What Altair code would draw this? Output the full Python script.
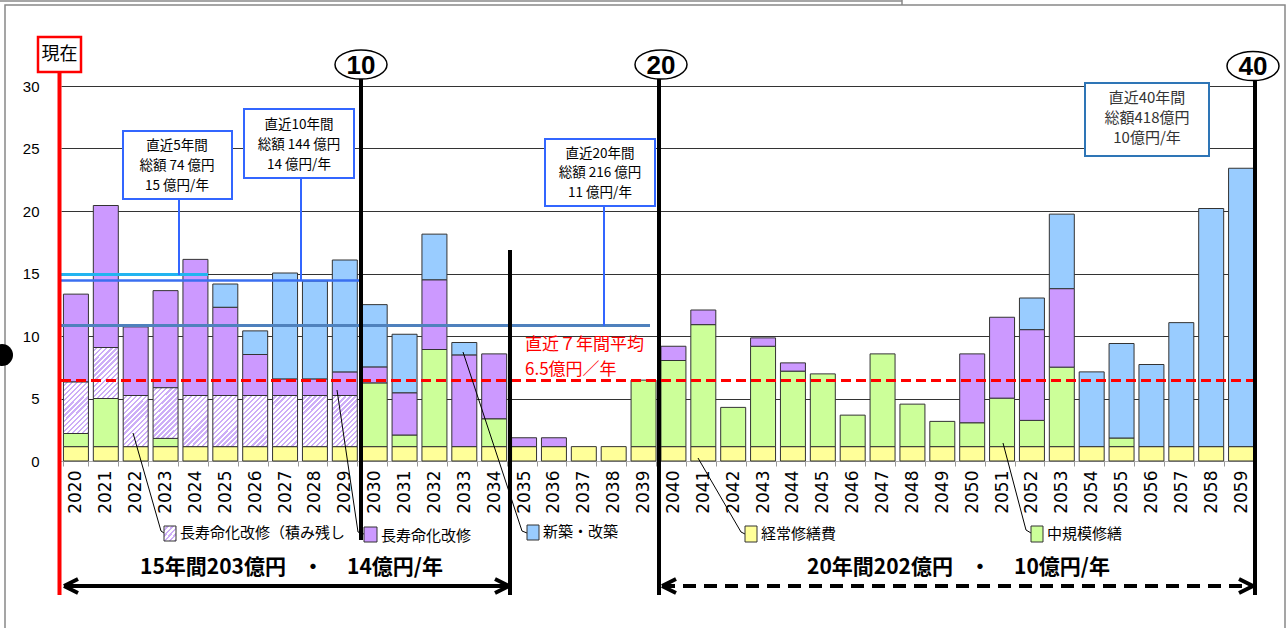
import altair as alt
import pandas as pd

# ---------------- data ----------------
years = list(range(2020, 2060))
keijo = [1.15] * 40
chukibo = [1.05, 3.85, 0, 0.66, 0, 0, 0, 0, 0, 0,
           5.10, 0.93, 7.77, 0, 2.23, 0, 0, 0, 0, 5.32,
           6.89, 9.76, 3.14, 8.03, 6.04, 5.82, 2.52, 7.42, 3.40, 2.02,
           1.91, 3.88, 2.10, 6.36, 0, 0.69, 0, 0, 0, 0]
tsumi = [4.12, 4.08, 4.09, 4.05, 4.09, 4.09, 4.09, 4.09, 4.09, 4.09] + [0] * 30
choju = [7.03, 11.36, 5.49, 7.77, 10.89, 7.06, 3.28, 1.33, 1.33, 1.89,
         1.28, 3.38, 5.58, 7.34, 5.19, 0.71, 0.71, 0, 0, 0,
         1.14, 1.17, 0, 0.67, 0.66, 0, 0, 0, 0, 0,
         5.51, 6.47, 7.26, 6.28, 0, 0, 0, 0, 0, 0]
shinchiku = [0, 0, 0, 0, 0, 1.86, 1.89, 8.47, 7.83, 8.95,
             4.98, 4.68, 3.65, 0.99, 0, 0, 0, 0, 0, 0,
             0, 0, 0, 0, 0, 0, 0, 0, 0, 0,
             0, 0, 2.53, 5.96, 5.98, 7.56, 6.57, 9.92, 19.05, 22.27]

cats = ["経常修繕費", "中規模修繕", "長寿命化改修（積み残し）", "長寿命化改修", "新築・改築"]
colors = ["#FFFF99", "#CCFF99", "#FFFFFF", "#CC99FF", "#99CCFF"]
series = [keijo, chukibo, tsumi, choju, shinchiku]

y_ticks = [0, 5, 10, 15, 20, 25, 30]
avg_lines = [14.92, 14.44, 10.84]   # 直近5年, 直近10年, 直近20年 averages as drawn
avg7 = 6.45

rows = []
for i, yr in enumerate(years):
    base = 0.0
    for c, arr in zip(cats, series):
        v = arr[i]
        if v > 0:
            rows.append({"year": yr, "cat": c, "y0": base, "y1": base + v})
        base += v
df = pd.DataFrame(rows)
df_main = df[df["cat"] != cats[2]]
df_hatch = df[df["cat"] == cats[2]]

# ---------------- layout ----------------
OX, OY = 61, 86
W, H = 1195, 375
FONT = "Noto Sans CJK JP"
one = pd.DataFrame({"k": [0]})


def px(x):
    return alt.value(x - OX)


def py(y):
    return alt.value(y - OY)


def hatch(n, x2, y2, line="#CDAEF7", bg="#FFFFFF", frac=0.45):
    stops = []
    for i in range(n):
        a = i / n
        b = (i + 1 - frac) / n
        c = (i + 1) / n
        stops += [{"offset": a, "color": bg}, {"offset": b, "color": bg},
                  {"offset": b, "color": line}, {"offset": c, "color": line}]
    return {"gradient": "linear", "x1": 0, "y1": 0, "x2": x2, "y2": y2, "stops": stops}


def rule(x1, y1, x2, y2, color="black", width=1.0, dash=None):
    kw = dict(color=color, strokeWidth=width)
    if dash:
        kw["strokeDash"] = dash
    return alt.Chart(one).mark_rule(**kw).encode(x=px(x1), y=py(y1), x2=px(x2), y2=py(y2))


def hline(v, x1, x2, color, width, dash=None):
    kw = dict(color=color, strokeWidth=width)
    if dash:
        kw["strokeDash"] = dash
    return alt.Chart(one).mark_rule(**kw).encode(y=alt.datum(v), x=px(x1), x2=px(x2))


def rect(x1, y1, x2, y2, fill="white", stroke="black", width=1.0):
    return alt.Chart(one).mark_rect(fill=fill, stroke=stroke, strokeWidth=width).encode(
        x=px(x1), x2=px(x2), y=py(y1), y2=py(y2))


def text(x, y, s, size=14, color="black", weight="normal", align="center", font=FONT):
    return alt.Chart(one).mark_text(text=s, fontSize=size, color=color, fontWeight=weight,
                                    align=align, baseline="middle", font=font).encode(x=px(x), y=py(y))


layers = []

x_enc = alt.X("year:O",
              scale=alt.Scale(paddingInner=0.164, paddingOuter=0.082),
              axis=alt.Axis(title=None, labelAngle=-90, labelFont="DejaVu Sans", labelFontSize=17,
                            labelColor="black", labelPadding=4, tickBand="extent", tickSize=5,
                            tickColor="#999999", domainColor="#AAAAAA", grid=False))
y_enc = alt.Y("y1:Q",
              scale=alt.Scale(domain=[0, 30], nice=False),
              axis=alt.Axis(title=None, values=y_ticks, grid=True, gridColor="#333333", gridWidth=1,
                            ticks=False, domain=False, labelFont="Liberation Sans", labelFontSize=15,
                            labelColor="black", labelPadding=22))

bars = alt.Chart(df_main).mark_bar(stroke="#333333", strokeWidth=1).encode(
    x=x_enc, y=y_enc, y2="y0:Q",
    color=alt.Color("cat:N", scale=alt.Scale(domain=[cats[0], cats[1], cats[3], cats[4]],
                                             range=[colors[0], colors[1], colors[3], colors[4]]),
                    legend=None))
layers.append(bars)

hbars = alt.Chart(df_hatch).mark_bar(fill=hatch(15, 0.588, 1.2), stroke="#333333", strokeWidth=1).encode(
    x="year:O", y="y1:Q", y2="y0:Q")
layers.append(hbars)

# average lines
layers.append(hline(avg_lines[0], 61, 208, "#22B4F0", 3))
layers.append(hline(avg_lines[1], 61, 360, "#3A6FF0", 2.5))
layers.append(hline(avg_lines[2], 61, 650, "#4F81BD", 3))
layers.append(hline(avg7, 61, 1255, "#FF0000", 3, dash=[10, 5]))

# connectors from boxes
layers.append(rule(179, 199, 179, 275, "#3366FF", 2))
layers.append(rule(301, 178, 301, 281, "#3366FF", 2))
layers.append(rule(604, 206, 604, 326, "#3366FF", 2))

# boxes
layers.append(rect(123, 131, 232, 199, stroke="#3366FF", width=2))
layers.append(text(177, 146, "直近5年間", 13.5))
layers.append(text(177, 166, "総額 74 億円", 13.5))
layers.append(text(177, 186, "15 億円/年", 13.5))

layers.append(rect(244, 109, 354, 178, stroke="#3366FF", width=2))
layers.append(text(299, 125, "直近10年間", 13.5))
layers.append(text(299, 145, "総額 144 億円", 13.5))
layers.append(text(299, 165, "14 億円/年", 13.5))

layers.append(rect(545, 139, 655, 206, stroke="#3366FF", width=2))
layers.append(text(600, 154, "直近20年間", 13.5))
layers.append(text(600, 173, "総額 216 億円", 13.5))
layers.append(text(600, 193, "11 億円/年", 13.5))

layers.append(rect(1085, 83, 1209, 156, stroke="#2E75B6", width=2))
layers.append(text(1147, 98, "直近40年間", 15, color="#333333"))
layers.append(text(1147, 118, "総額418億円", 15, color="#333333"))
layers.append(text(1147, 138, "10億円/年", 15, color="#333333"))

# red average text
layers.append(text(525, 345, "直近７年間平均", 17, color="#FF0000", align="left"))
layers.append(text(525, 370, "6.5億円／年", 17, color="#FF0000", align="left"))

# vertical black lines
layers.append(rule(361, 79, 361, 540, "black", 4))
layers.append(rule(510, 250, 510, 595, "black", 4))
layers.append(rule(659, 79, 659, 595, "black", 4))
layers.append(rule(1255, 81, 1255, 595, "black", 4))

# red "now" line and box
layers.append(rule(59.5, 72, 59.5, 595, "#FF0000", 4))
layers.append(rect(38, 37, 81, 72, stroke="#FF0000", width=2.5))
layers.append(text(59.5, 55, "現在", 18))

# ellipses with numbers
ELL = "M -1 0 A 1 0.56 0 1 0 1 0 A 1 0.56 0 1 0 -1 0 Z"
for cx, cy, s in [(361, 64.5, "10"), (661, 64.5, "20"), (1253, 66, "40")]:
    layers.append(alt.Chart(one).mark_point(shape=ELL, filled=True, fill="white", stroke="black",
                                            strokeWidth=1.5, size=2704, opacity=1).encode(x=px(cx), y=py(cy)))
    layers.append(text(cx, cy + 1, s, 26, weight="bold", font="Liberation Sans"))

# legend leader lines, swatches, labels
leaders = [
    [(133, 433), (161, 531), (164, 533)],
    [(337, 390), (358, 532), (364, 534)],
    [(463, 352), (522, 531), (527, 533)],
    [(698, 458), (741, 532), (745, 534)],
    [(1003, 443), (1026, 530), (1031, 533)],
]
for pts in leaders:
    for (xa, ya), (xb, yb) in zip(pts[:-1], pts[1:]):
        layers.append(rule(xa, ya, xb, yb, "black", 1))

layers.append(alt.Chart(one).mark_rect(fill=hatch(5, 0.95, 1.04), stroke="#333333", strokeWidth=1).encode(
    x=px(164), x2=px(176), y=py(526), y2=py(541)))
layers.append(text(180, 533, "長寿命化改修（積み残し", 15, align="left"))
layers.append(rect(364, 527, 377, 542, fill=colors[3], stroke="#333333"))
layers.append(text(381, 536, "長寿命化改修", 15, align="left"))
layers.append(rect(527, 525, 539, 540, fill=colors[4], stroke="#333333"))
layers.append(text(543, 532, "新築・改築", 15, align="left"))
layers.append(rect(745, 526, 757, 542, fill=colors[0], stroke="#333333"))
layers.append(text(761, 534, "経常修繕費", 15, align="left"))
layers.append(rect(1031, 526, 1043, 542, fill=colors[1], stroke="#333333"))
layers.append(text(1047, 534, "中規模修繕", 15, align="left"))

# arrows
layers.append(rule(64, 586, 509, 586, "black", 4))
layers.append(rule(64, 586, 78, 579, "black", 4))
layers.append(rule(64, 586, 78, 593, "black", 4))
layers.append(rule(509, 586, 495, 579, "black", 4))
layers.append(rule(509, 586, 495, 593, "black", 4))
layers.append(text(213, 568, "15年間203億円", 21, weight="bold"))
layers.append(text(313, 568, "・", 21, weight="bold"))
layers.append(text(395, 568, "14億円/年", 21, weight="bold"))

layers.append(rule(662, 586, 1253, 586, "black", 4, dash=[13, 8]))
layers.append(rule(662, 586, 676, 579, "black", 4))
layers.append(rule(662, 586, 676, 593, "black", 4))
layers.append(rule(1253, 586, 1239, 579, "black", 4))
layers.append(rule(1253, 586, 1239, 593, "black", 4))
layers.append(text(880, 568, "20年間202億円", 21, weight="bold"))
layers.append(text(980, 568, "・", 21, weight="bold"))
layers.append(text(1062, 568, "10億円/年", 21, weight="bold"))

# frame and decorations
layers.append(alt.Chart(one).mark_rect(fillOpacity=0, stroke="#888888", strokeWidth=1.5).encode(
    x=px(5), x2=px(1285), y=py(5), y2=py(660)))
layers.append(rule(0, 1, 902, 1, "#888888", 1.5))
layers.append(rule(902, 0, 902, 5, "#888888", 1.5))
layers.append(alt.Chart(one).mark_point(shape="circle", filled=True, color="black", size=484, opacity=1).encode(
    x=px(2), y=py(355)))

chart = alt.layer(*layers).properties(
    width=W, height=H,
    padding={"left": OX, "top": OY, "right": 1287 - OX - W, "bottom": 628 - OY - H},
    autosize=alt.AutoSizeParams(type="none"),
).configure_view(strokeWidth=0)

chart.save("out.html", embed_options={"renderer": "svg", "actions": False})
